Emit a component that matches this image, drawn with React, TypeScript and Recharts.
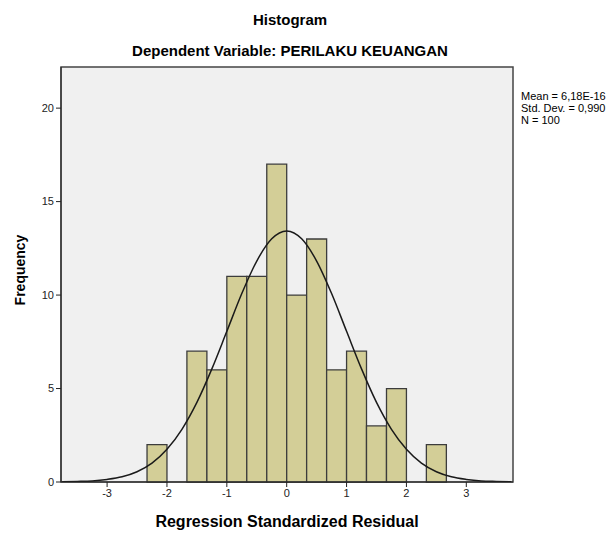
import {
    ComposedChart,
    Line,
    XAxis,
    YAxis,
    ReferenceArea
} from "recharts";

// histogram bins (lower edge, upper edge, frequency)
const binLo = [-2.333, -2, -1.667, -1.333, -1, -0.667, -0.333, 0, 0.333, 0.667, 1, 1.333, 1.667, 2, 2.333];
const binHi = [-2, -1.667, -1.333, -1, -0.667, -0.333, 0, 0.333, 0.667, 1, 1.333, 1.667, 2, 2.333, 2.667];
const counts = [2, 0, 7, 6, 11, 11, 17, 10, 13, 6, 7, 3, 5, 0, 2];

// normal curve
const curveX = [-3.75, -3.5, -3.25, -3, -2.75, -2.5, -2.25, -2, -1.75, -1.5, -1.25, -1, -0.75, -0.5, -0.25, 0,
    0.25, 0.5, 0.75, 1, 1.25, 1.5, 1.75, 2, 2.25, 2.5, 2.75, 3, 3.25, 3.5, 3.75];
const curveY = [0.01, 0.03, 0.06, 0.14, 0.28, 0.55, 1.01, 1.75, 2.82, 4.26, 6.05, 8.06, 10.08, 11.82, 13.01, 13.43,
    13.01, 11.82, 10.08, 8.06, 6.05, 4.26, 2.82, 1.75, 1.01, 0.55, 0.28, 0.14, 0.06, 0.03, 0.01];

const xTicks = [-3, -2, -1, 0, 1, 2, 3];
const yTicks = [0, 5, 10, 15, 20];
const xDomain = [-3.77, 3.78];
const yDomain = [0, 22.2];

const stats = ["Mean = 6,18E-16", "Std. Dev. = 0,990", "N = 100"];

const curveData = curveX.map((x, i) => ({ x, y: curveY[i] }));

const font = "'Liberation Sans', Arial, sans-serif";

export default function App() {
    return (
        <div style={{ position: "absolute", left: 0, top: 0, width: 614, height: 534, background: "#fff" }}>
            <ComposedChart
                width={614}
                height={534}
                data={curveData}
                margin={{ top: 67, right: 101, bottom: 0, left: 0 }}
                style={{ fontFamily: font }}
            >
                <ReferenceArea
                    x1={xDomain[0]}
                    x2={xDomain[1]}
                    y1={yDomain[0]}
                    y2={yDomain[1]}
                    fill="#f0f0f0"
                    fillOpacity={1}
                    stroke="#444"
                    strokeWidth={1.5}
                />

                {
                    binLo
                        .map((lo, i) => ({ lo, hi: binHi[i], n: counts[i] }))
                        .filter(b => b.n > 0)
                        .map((b, i) => (
                            <ReferenceArea
                                key={i}
                                x1={b.lo}
                                x2={b.hi}
                                y1={0}
                                y2={b.n}
                                fill="#d3ce97"
                                fillOpacity={1}
                                stroke="#3c3c3c"
                                strokeWidth={1.3}
                            />
                        ))
                }

                <XAxis
                    dataKey="x"
                    type="number"
                    domain={xDomain}
                    ticks={xTicks}
                    allowDataOverflow
                    height={52}
                    tickSize={5}
                    stroke="#222"
                    tick={{ fill: "#222", fontSize: 11 }}
                />

                <YAxis
                    type="number"
                    domain={yDomain}
                    ticks={yTicks}
                    allowDataOverflow
                    width={61}
                    tickSize={5}
                    stroke="#222"
                    tick={{ fill: "#222", fontSize: 11 }}
                />

                <Line
                    dataKey="y"
                    type="monotone"
                    stroke="#1a1a1a"
                    strokeWidth={1.5}
                    dot={false}
                    isAnimationActive={false}
                />

                <text x={290} y={25} textAnchor="middle" fontSize={15} fontWeight="bold" fill="#000">
                    Histogram
                </text>
                <text x={290} y={56} textAnchor="middle" fontSize={15} fontWeight="bold" fill="#000">
                    Dependent Variable: PERILAKU KEUANGAN
                </text>
                <text x={287} y={527} textAnchor="middle" fontSize={16} fontWeight="bold" fill="#000">
                    Regression Standardized Residual
                </text>
                <text
                    x={25}
                    y={270}
                    textAnchor="middle"
                    fontSize={14}
                    fontWeight="bold"
                    fill="#000"
                    transform="rotate(-90 25 270)"
                >
                    Frequency
                </text>
                {
                    stats.map((s, i) => (
                        <text key={i} x={521} y={100 + i * 12} fontSize={11} fill="#000">
                            {s}
                        </text>
                    ))
                }
            </ComposedChart>
        </div>
    );
}
